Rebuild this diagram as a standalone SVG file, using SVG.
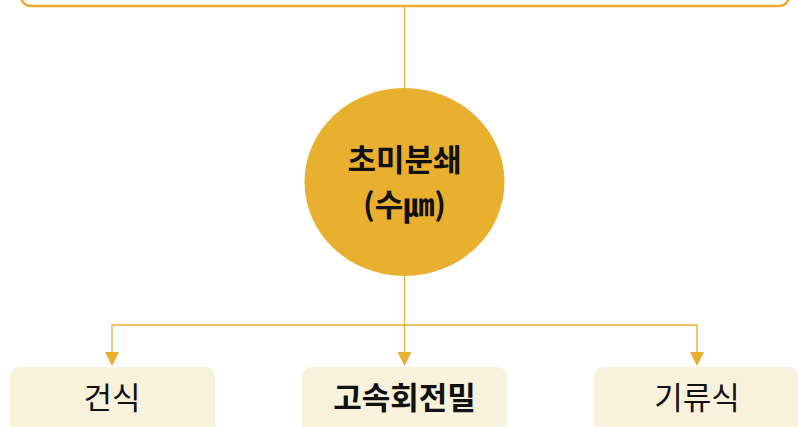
<svg xmlns="http://www.w3.org/2000/svg" width="798" height="427" viewBox="0 0 798 427">
<defs>
<style>
.ln{fill:none;stroke:#E9AF2E;stroke-width:1.3}
.ah{fill:#E9AF2E}
.box{fill:#F8F1DC}
.t{font-family:"Noto Sans CJK KR","Noto Sans",sans-serif;font-size:31px;fill:#111;text-anchor:middle}
.b{font-weight:bold}
</style>
</defs>
<g id="top">
<rect x="21" y="-30" width="768" height="36" rx="10" fill="#fff" stroke="#EDAC2E" stroke-width="2.5"/>
</g>
<g id="connectors">
<line class="ln" x1="404.5" y1="6" x2="404.5" y2="88"/>
<line class="ln" x1="404.5" y1="276" x2="404.5" y2="352"/>
<polyline class="ln" points="112,352 112,325 697,325 697,352"/>
<path class="ah" d="M105,352 L119,352 L112,366 Z"/>
<path class="ah" d="M397.5,352 L411.5,352 L404.5,366 Z"/>
<path class="ah" d="M690,352 L704,352 L697,366 Z"/>
</g>
<g id="center">
<ellipse cx="404.5" cy="182" rx="100" ry="94" fill="#E9AF2E"/>
<text class="t b" x="404.5" y="171" font-size="29.5">초미분쇄</text>
<text class="t b" x="404.5" y="216" font-size="29.5">(수㎛)</text>
</g>
<g id="n1">
<rect class="box" x="10" y="367" width="205" height="70" rx="9"/>
<text class="t" x="112" y="409">건식</text>
</g>
<g id="n2">
<rect class="box" x="302" y="367" width="205" height="70" rx="9"/>
<text class="t b" x="404.5" y="409">고속회전밀</text>
</g>
<g id="n3">
<rect class="box" x="594" y="367" width="205" height="70" rx="9"/>
<text class="t" x="697" y="409">기류식</text>
</g>
</svg>
